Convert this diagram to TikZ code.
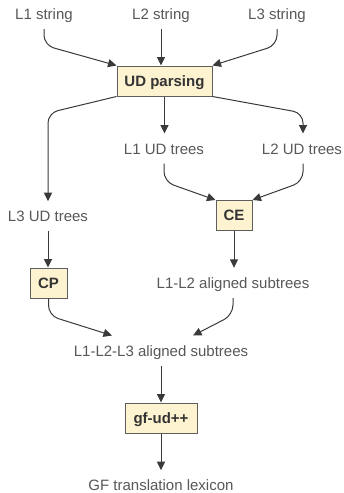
\documentclass[tikz,border=0pt]{standalone}
\usepackage{fontspec}
\setmainfont{Liberation Sans}
\usetikzlibrary{arrows.meta}
\definecolor{txtgrey}{HTML}{585858}
\definecolor{linegrey}{HTML}{3A3A3A}
\definecolor{boxfill}{HTML}{FDF3D0}
\definecolor{boxline}{HTML}{5E5E5E}
\definecolor{boxtext}{HTML}{333333}
\tikzset{
  label/.style={anchor=base, inner xsep=0pt, inner ysep=9.5pt, text height=10.8pt, text depth=0pt,
    font=\fontsize{15}{18}\selectfont, text=txtgrey},
  procbox/.style={draw=boxline, fill=boxfill, line width=1pt, inner sep=0pt, minimum height=30pt,
    text height=10.8pt, text depth=0pt, font=\fontsize{15}{18}\selectfont\bfseries, text=boxtext},
  flow/.style={draw=linegrey, line width=1pt, rounded corners=10pt,
    -{Triangle[length=8.5pt,width=8pt]}}
}
\begin{document}
\begin{tikzpicture}[x=1pt, y=-1pt]
\path[use as bounding box, fill=white] (0,0) rectangle (344,493);

% inputs
\node[label] (s1) at (44,19.5) {L1 string};
\node[label] (s2) at (161,19.5) {L2 string};
\node[label] (s3) at (277,19.5) {L3 string};

% parsing stage
\node[procbox, minimum width=95pt] (ud) at (164.5,81) {UD parsing};

\node[label] (l1ud) at (164,154) {L1 UD trees};
\node[label] (l2ud) at (302,154) {L2 UD trees};
\node[label] (l3ud) at (48,221.7) {L3 UD trees};

% alignment stage
\node[procbox, minimum width=36pt] (ce) at (234,215.5) {CE};
\node[label] (l12) at (233,288.3) {L1-L2 aligned subtrees};
\node[procbox, minimum width=37pt] (cp) at (48.5,283) {CP};
\node[label] (l123) at (161,356) {L1-L2-L3 aligned subtrees};

% lexicon extraction
\node[procbox, minimum width=72pt] (gf) at (161,418) {gf-ud++};
\node[label] (lex) at (161,490.7) {GF translation lexicon};

% connectors
\draw[flow] (s1.south) -- ++(0,16) -- (ud.north west);
\draw[flow] (s2.south) -- (s2.south |- ud.north);
\draw[flow] (s3.south) -- ++(0,16) -- (ud.north east);

\draw[flow] (ud.south west) -- (l3ud.north |- 0,113) -- (l3ud.north);
\draw[flow] (ud.south) -- (ud.south |- l1ud.north);
\draw[flow] (ud.south east) -- ([xshift=1pt]l2ud.north |- 0,113) -- ([xshift=1pt]l2ud.north);

\draw[flow] (l1ud.south) -- ++(0,18) -- (ce.north west);
\draw[flow] ([xshift=1pt]l2ud.south) -- ++(0,18) -- (ce.north east);

\draw[flow] (ce.south) -- (ce.south |- l12.north);
\draw[flow] (l3ud.south) -- (l3ud.south |- cp.north);

\draw[flow] (cp.south) -- ++(0,17) -- ([xshift=-49pt]l123.north);
\draw[flow] (l12.south) -- ++(0,17) -- ([xshift=32pt]l123.north);

\draw[flow] (l123.south) -- (l123.south |- gf.north);
\draw[flow] (gf.south) -- (gf.south |- lex.north);
\end{tikzpicture}
\end{document}
